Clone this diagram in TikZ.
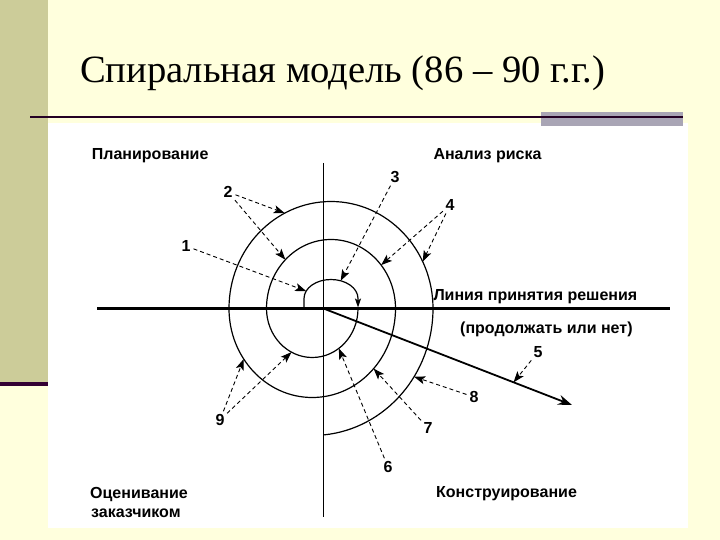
\documentclass[tikz,border=0pt]{standalone}
\usepackage{fontspec}
\setmainfont{Liberation Serif}
\setsansfont{Liberation Sans}
\usetikzlibrary{arrows.meta,calc}
\definecolor{slidebg}{HTML}{FFFFDD}
\definecolor{olivebar}{HTML}{CCCC99}
\definecolor{darkline}{HTML}{330033}
\definecolor{greybar}{HTML}{A9A5B5}

\begin{document}
\begin{tikzpicture}[x=1pt, y=-1pt,
    spiral/.style={line width=1.2pt},
    dasharrow/.style={line width=0.9pt, dash pattern=on 4pt off 3pt,
        -{Stealth[length=11pt, width=8pt, inset=2.5pt]}, shorten <=2pt},
    lbl/.style={font=\sffamily\bfseries\fontsize{16}{19}\selectfont,
        inner sep=0pt, anchor=base west},
    num/.style={font=\sffamily\bfseries\fontsize{16}{19}\selectfont, inner sep=1pt}]
    \useasboundingbox (0,0) rectangle (720,540);
    % slide
    \fill[slidebg] (0,0) rectangle (720,540);
    \fill[white] (48,123) rectangle (688,528);
    \fill[olivebar] (0,0) rectangle (48,382);
    \fill[darkline] (0,382) rectangle (48,386);
    \fill[greybar] (541,112) rectangle (683,126);
    \draw[darkline!70!black, line width=2pt] (30,117.5) -- (683,117.5);
    \node[font=\fontsize{38.6}{44}\selectfont, anchor=base west, inner sep=0pt]
        (title) at (80,83) {Спиральная модель (86 – 90 г.г.)};

    % axes
    \coordinate (o) at (323.5,308.5);
    \coordinate (axtop) at (323.5,163);
    \coordinate (axbot) at (323.5,517);
    \coordinate (axleft) at (97,308.5);
    \coordinate (axright) at (670,308.5);
    \draw[line width=1.6pt] (axtop) -- (axbot);
    \draw[line width=3pt] (axleft) -- (axright);
    \coordinate (dtip) at (572,405);
    \draw[line width=1.8pt, -{Stealth[length=14pt, width=10pt]}] (o) -- (dtip);

    % spiral
    \coordinate (c0) at (331,298.5);
    \coordinate (cu) at (331,308.5);
    \coordinate (cl) at (312.25,308.5);
    \draw[spiral, -{Stealth[length=9pt, width=6pt, inset=2pt]}] (304,308.5) -- ++(0,-10)
        arc[start angle=180, end angle=0, x radius=27pt, y radius=19pt] -- ++(0,9);
    \draw[spiral] (358,308.5)
        arc[start angle=0, end angle=-180, x radius=45.75pt, y radius=49pt]
        arc[start angle=180, end angle=0, x radius=64.5pt, y radius=69pt]
        arc[start angle=0, end angle=-180, x radius=83.25pt, y radius=89pt]
        arc[start angle=180, end angle=0, x radius=102pt, y radius=107pt]
        arc[start angle=0, end angle=-84.5, x radius=120.75pt, y radius=127pt];

    % labels
    \node[lbl] (plan) at (91.7,159.3) {Планирование};
    \node[lbl] (risk) at (433.3,159.3) {Анализ риска};
    \node[lbl] (line1) at (433.3,300) {Линия принятия решения};
    \node[lbl] (line2) at (460,333) {(продолжать или нет)};
    \node[lbl] (eval1) at (90,498.3) {Оценивание};
    \node[lbl] (eval2) at (91,517.3) {заказчиком};
    \node[lbl] (build) at (436,497.3) {Конструирование};

    \node[num] (n1) at (186,246) {1};
    \node[num] (n2) at (228,192) {2};
    \node[num] (n3) at (395,177) {3};
    \node[num] (n4) at (450,205) {4};
    \node[num] (n5) at (538,352) {5};
    \node[num] (n6) at (388,467) {6};
    \node[num] (n7) at (428,428) {7};
    \node[num] (n8) at (474,397) {8};
    \node[num] (n9) at (220,420) {9};

    % arrow ends on the spiral
    \coordinate (t1) at ($(c0)+(157:27pt and 19pt)$);
    \coordinate (t2a) at ($(cu)+(117:102pt and 107pt)$);
    \coordinate (t2b) at ($(cu)+(135:64.5pt and 69pt)$);
    \coordinate (t3) at ($(c0)+(69:27pt and 19pt)$);
    \coordinate (t4a) at ($(cu)+(26:102pt and 107pt)$);
    \coordinate (t4b) at ($(cu)+(39:64.5pt and 69pt)$);
    \coordinate (t5) at ($(o)!0.765!(dtip)$);
    \coordinate (t6) at ($(cl)+(-54.5:45.75pt and 49pt)$);
    \coordinate (t7) at ($(cl)+(-42.5:83.25pt and 89pt)$);
    \coordinate (t8) at ($(cl)+(-32.5:120.75pt and 127pt)$);
    \coordinate (t9a) at ($(cl)+(-145.4:83.25pt and 89pt)$);
    \coordinate (t9b) at ($(cl)+(-117:45.75pt and 49pt)$);

    \draw[dasharrow] (n1) -- (t1);
    \draw[dasharrow] (n2) -- (t2a);
    \draw[dasharrow] (n2) -- (t2b);
    \draw[dasharrow] (n3) -- (t3);
    \draw[dasharrow] (n4) -- (t4a);
    \draw[dasharrow] (n4) -- (t4b);
    \draw[dasharrow] (n5) -- (t5);
    \draw[dasharrow] (n6) -- (t6);
    \draw[dasharrow] (n7) -- (t7);
    \draw[dasharrow] (n8) -- (t8);
    \draw[dasharrow] (n9) -- (t9a);
    \draw[dasharrow] (n9) -- (t9b);
\end{tikzpicture}
\end{document}
